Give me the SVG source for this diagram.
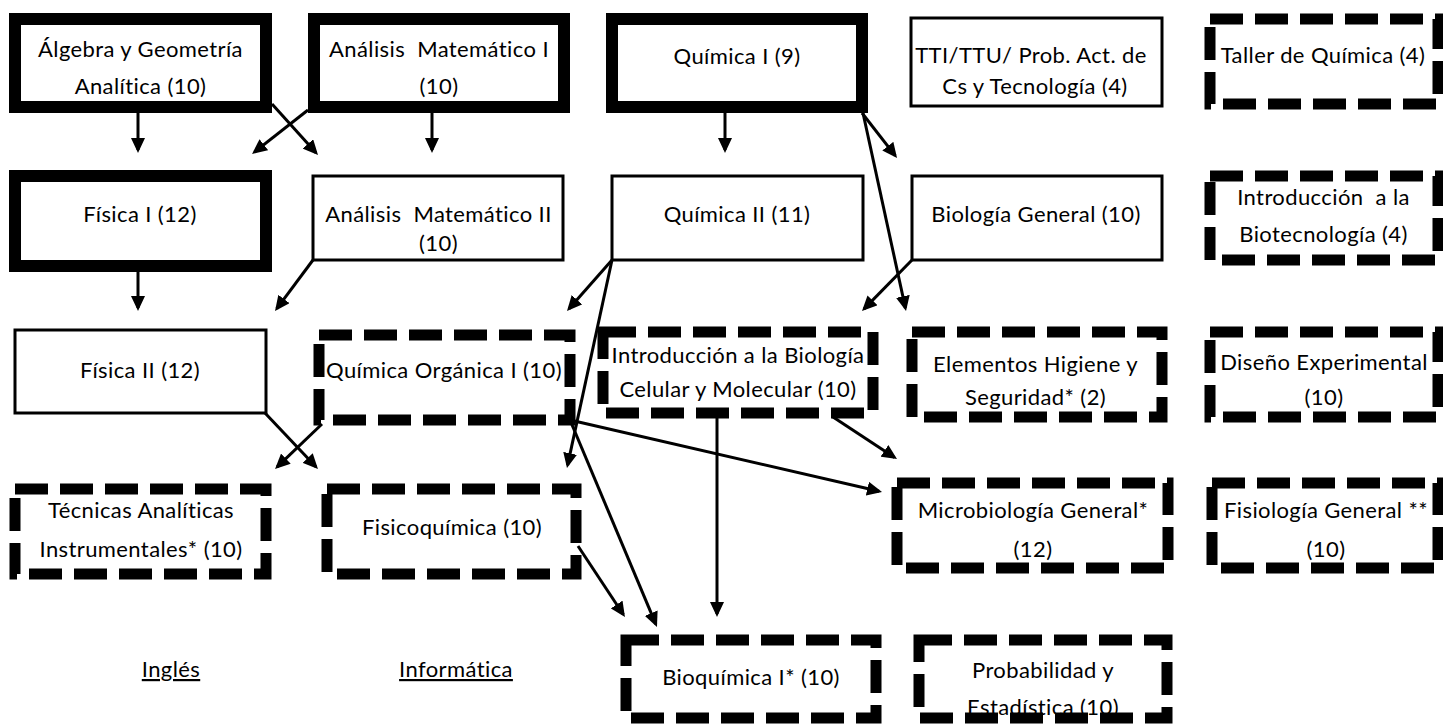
<svg xmlns="http://www.w3.org/2000/svg" width="1443" height="725" viewBox="0 0 1443 725">
<defs>
<marker id="ah" markerUnits="userSpaceOnUse" markerWidth="15" markerHeight="14" viewBox="0 0 15 14" refX="12" refY="7" orient="auto">
<path d="M0,0 L15,7 L0,14 Z" fill="#000"/>
</marker>
<style>
.thick{fill:#fff;stroke:#000;stroke-width:12}
.thin{fill:#fff;stroke:#000;stroke-width:3}
.dash{fill:#fff;stroke:#000;stroke-width:11;stroke-dasharray:33 12}
text{font-family:Lato,"Liberation Sans",sans-serif;font-size:22px;letter-spacing:0.4px;fill:#000;text-anchor:middle;white-space:pre}
.u{text-decoration:underline}
#connectors path{fill:none;stroke:#000;stroke-width:3;marker-end:url(#ah)}
</style>
</defs>
<rect x="0" y="0" width="1443" height="725" fill="#fff"/>
<g id="n_algebra"><rect class="thick" x="15" y="19" width="251" height="88"/><text x="140.5" y="57">Álgebra y Geometría</text><text x="140.5" y="94">Analítica (10)</text></g>
<g id="n_analisis1"><rect class="thick" x="314" y="19" width="250" height="88"/><text x="439" y="57" xml:space="preserve">Análisis  Matemático I</text><text x="439" y="94">(10)</text></g>
<g id="n_quimica1"><rect class="thick" x="612" y="19" width="250" height="88"/><text x="737" y="64">Química I (9)</text></g>
<g id="n_tti"><rect class="thin" x="911" y="18" width="251" height="88"/><text x="1031" y="63">TTI/TTU/ Prob. Act. de</text><text x="1035" y="94">Cs y Tecnología (4)</text></g>
<g id="n_taller"><rect class="dash" x="1210" y="19" width="228" height="85"/><text x="1323" y="63">Taller de Química (4)</text></g>
<g id="n_fisica1"><rect class="thick" x="15" y="176" width="251" height="90"/><text x="140" y="222">Física I (12)</text></g>
<g id="n_analisis2"><rect class="thin" x="313" y="176" width="250" height="84"/><text x="438.5" y="222" xml:space="preserve">Análisis  Matemático II</text><text x="438.5" y="251">(10)</text></g>
<g id="n_quimica2"><rect class="thin" x="612" y="176" width="251" height="84"/><text x="737" y="222">Química II (11)</text></g>
<g id="n_biologia"><rect class="thin" x="912" y="176" width="250" height="84"/><text x="1036" y="222">Biología General (10)</text></g>
<g id="n_biotec"><rect class="dash" x="1210" y="176" width="228" height="84"/><text x="1323.5" y="205" xml:space="preserve">Introducción  a la</text><text x="1323.5" y="242">Biotecnología (4)</text></g>
<g id="n_fisica2"><rect class="thin" x="15" y="330" width="251" height="83"/><text x="140" y="378">Física II (12)</text></g>
<g id="n_organica"><rect class="dash" x="319" y="335" width="251" height="85"/><text x="444" y="378">Química Orgánica I (10)</text></g>
<g id="n_celular"><rect class="dash" x="603" y="332" width="270" height="81"/><text x="738" y="363">Introducción a la Biología</text><text x="738" y="397">Celular y Molecular (10)</text></g>
<g id="n_higiene"><rect class="dash" x="912" y="332" width="250" height="85"/><text x="1035.5" y="372">Elementos Higiene y</text><text x="1035.5" y="405">Seguridad* (2)</text></g>
<g id="n_diseno"><rect class="dash" x="1210" y="332" width="228" height="85"/><text x="1324" y="370">Diseño Experimental</text><text x="1324" y="405">(10)</text></g>
<g id="n_tecnicas"><rect class="dash" x="15" y="489" width="251" height="85"/><text x="141" y="518">Técnicas Analíticas</text><text x="141" y="557">Instrumentales* (10)</text></g>
<g id="n_fisicoq"><rect class="dash" x="327" y="489" width="249" height="85"/><text x="452" y="535">Fisicoquímica (10)</text></g>
<g id="n_micro"><rect class="dash" x="897" y="483" width="271" height="85"/><text x="1033" y="518">Microbiología General*</text><text x="1033" y="557">(12)</text></g>
<g id="n_fisiologia"><rect class="dash" x="1212" y="483" width="226" height="85"/><text x="1326" y="518">Fisiología General **</text><text x="1326" y="557">(10)</text></g>
<g id="n_ingles"><text class="u" x="171" y="677">Inglés</text></g>
<g id="n_informatica"><text class="u" x="456" y="677">Informática</text></g>
<g id="n_bioq"><rect class="dash" x="626" y="640" width="250" height="78"/><text x="751" y="685">Bioquímica I* (10)</text></g>
<g id="n_prob"><rect class="dash" x="919" y="640" width="248" height="78"/><text x="1043" y="678">Probabilidad y</text><text x="1043" y="715">Estadística (10)</text></g>
<g id="connectors">
<path d="M138,113 L138,150"/>
<path d="M272,104 L316,152.8"/>
<path d="M308,110 L254.4,152.1"/>
<path d="M432,113 L432,150"/>
<path d="M725,113 L725,150"/>
<path d="M862,113 L895.2,155.6"/>
<path d="M863,113 L905.4,308.1"/>
<path d="M138,272 L138,308"/>
<path d="M313,260 L276.8,308.6"/>
<path d="M612,260 L569,308.75"/>
<path d="M612,260 L567.6,465.1"/>
<path d="M912,260 L864.1,308.9"/>
<path d="M265,413 L315.9,466.8"/>
<path d="M322,424 L277.2,466.9"/>
<path d="M570,420 L879.1,491.3"/>
<path d="M570,420 L655.8,624.2"/>
<path d="M833,417 L894.5,457.4"/>
<path d="M717,413 L717,614"/>
<path d="M578,546 L623.3,614.5"/>
</g>
</svg>
